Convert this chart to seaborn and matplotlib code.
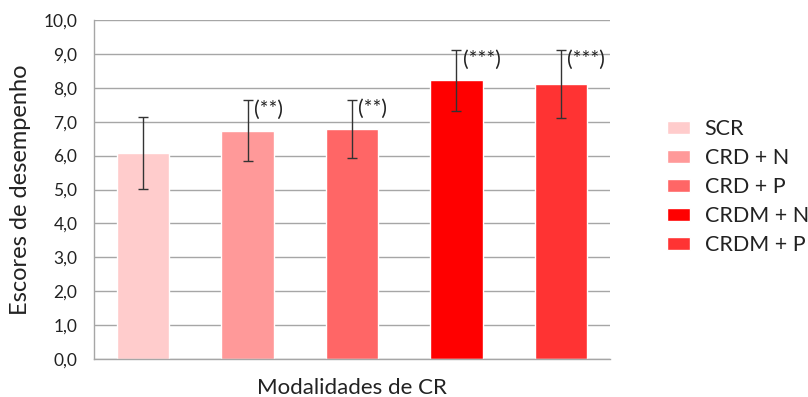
import matplotlib
matplotlib.use("Agg")
import matplotlib.pyplot as plt
import seaborn as sns
import pandas as pd

categories = ["SCR", "CRD + N", "CRD + P", "CRDM + N", "CRDM + P"]
means = [6.07, 6.73, 6.78, 8.22, 8.11]
errors = [1.06, 0.90, 0.86, 0.89, 1.00]
signif = ["", "(**)", "(**)", "(***)", "(***)"]
colors = ["#FFCCCC", "#FF9999", "#FF6666", "#FF0000", "#FF3333"]
yticks = [0, 1, 2, 3, 4, 5, 6, 7, 8, 9, 10]

sns.set_theme(style="white")
plt.rcParams["font.family"] = ["Lato", "DejaVu Sans"]

df = pd.DataFrame({"grupo": categories, "escore": means})

fig = plt.figure(figsize=(8.08, 3.97), dpi=100)
ax = fig.add_axes([94 / 808, 1 - 359 / 397, (610 - 94) / 808, (359 - 20) / 397])

sns.barplot(data=df, x="grupo", y="escore", hue="grupo", palette=colors,
            dodge=False, width=0.5, ax=ax, legend=True, saturation=1)

xs = list(range(len(categories)))
ax.errorbar(xs, means, yerr=errors, fmt="none", ecolor="#333333",
            elinewidth=1.0, capsize=3.5, capthick=1.0, zorder=5)

for x, m, e, s in zip(xs, means, errors, signif):
    if s:
        ax.text(x + 0.06, m + e + 0.02, s, ha="left", va="top",
                fontsize=15, color="#222222")

ax.set_ylim(0, 10)
ax.set_xlim(-0.47, 4.47)
ax.set_yticks(yticks)
ax.set_yticklabels([f"{v:.1f}".replace(".", ",") for v in yticks],
                   fontsize=12.5, color="#222222")
ax.set_xticks([])
ax.yaxis.grid(True, color="#A6A6A6", linewidth=1.0)
ax.set_axisbelow(True)
ax.tick_params(axis="y", length=0, pad=12)

for side in ["top", "right"]:
    ax.spines[side].set_visible(False)
for side in ["left", "bottom"]:
    ax.spines[side].set_color("#A6A6A6")
    ax.spines[side].set_linewidth(1.0)

ax.set_xlabel("Modalidades de CR", fontsize=16, color="#222222", labelpad=14)
ax.set_ylabel("Escores de desempenho", fontsize=17, color="#222222", labelpad=9)

handles, labels = ax.get_legend_handles_labels()
ax.legend(handles, labels, loc="center left", bbox_to_anchor=(667 / 808, 1 - 187 / 397),
          bbox_transform=fig.transFigure, frameon=False, fontsize=15.5,
          borderpad=0, borderaxespad=0,
          handlelength=1.05, handleheight=0.55, labelspacing=0.42, handletextpad=0.7,
          labelcolor="#222222")

fig.savefig("out.png", dpi=100)
